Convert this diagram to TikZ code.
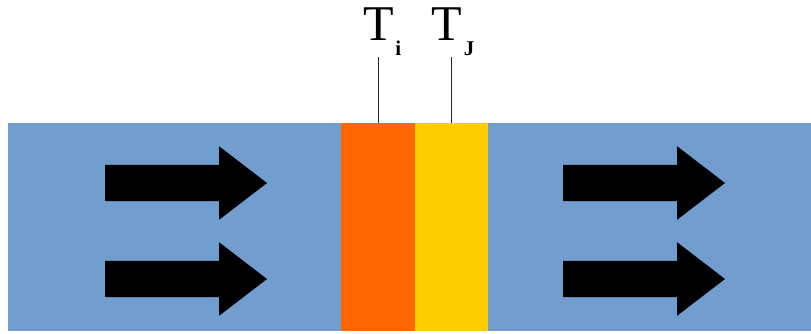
\documentclass[tikz,border=0pt]{standalone}
\usepackage{fontspec}
\setmainfont{Liberation Serif}
\usepackage{xcolor}
\usepackage{tikz}
\usetikzlibrary{shapes.arrows}
\usetikzlibrary{positioning}

\definecolor{flowblue}{RGB}{113,157,207}
\definecolor{layerorange}{RGB}{255,102,0}
\definecolor{layeryellow}{RGB}{255,204,0}

\begin{document}
\begin{tikzpicture}[
    x=1pt, y=-1pt,
    every node/.style={inner sep=0pt, outer sep=0pt},
    band/.style={rectangle, minimum height=208pt, anchor=north west},
    flow arrow/.style={single arrow, fill=black, anchor=tail, inner xsep=0pt, inner ysep=18pt,
      minimum height=162pt, single arrow head extend=18.5pt, single arrow tip angle=75},
    temp label/.style={font=\fontsize{50}{50}\selectfont},
    temp index/.style={font=\fontsize{21}{21}\selectfont\bfseries},
    probe/.style={draw=black!85, line width=1pt},
  ]
  \useasboundingbox (0,0) rectangle (811,333);

  % channel and the two layers
  \node[band, fill=flowblue, minimum width=333pt] (inflow) at (8,123) {};
  \node[band, fill=layerorange, minimum width=74pt, right=0pt of inflow] (layeri) {};
  \node[band, fill=layeryellow, minimum width=73pt, right=0pt of layeri] (layerj) {};
  \node[band, fill=flowblue, minimum width=323pt, right=0pt of layerj] (outflow) {};

  % flow direction
  \node[flow arrow] (inup)    at (105,183) {};
  \node[flow arrow] (indown)  at (105,279) {};
  \node[flow arrow] (outup)   at (563,183) {};
  \node[flow arrow] (outdown) at (563,279) {};

  % temperature probes
  \coordinate (ti top) at (layeri.north |- 0,57);
  \coordinate (tj top) at (layerj.north |- 0,57);
  \draw[probe] (layeri.north) -- (ti top);
  \draw[probe] (layerj.north) -- (tj top);

  \node[temp label, anchor=base] (ti) at ([xshift=0.5pt, yshift=17pt]ti top) {T};
  \node[temp index, anchor=base west] (ti sub) at ([xshift=1.5pt, yshift=-15pt]ti.base east) {i};
  \node[temp label, anchor=base] (tj) at ([xshift=-5pt, yshift=17pt]tj top) {T};
  \node[temp index, anchor=base west] (tj sub) at ([xshift=2pt, yshift=-15pt]tj.base east) {J};

\end{tikzpicture}
\end{document}
